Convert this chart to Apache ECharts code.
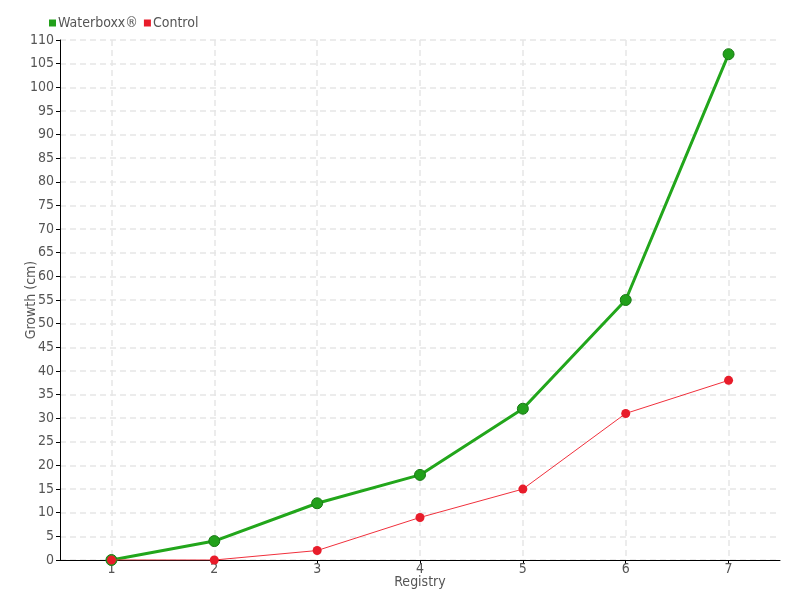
<!DOCTYPE html>
<html><head><meta charset="utf-8">
<script src="https://cdn.jsdelivr.net/npm/echarts@6/dist/echarts.min.js"></script>
<style>html,body{margin:0;padding:0;background:#fff}#c{width:800px;height:600px}</style>
</head><body><div id="c"></div>
<script>
const categories = ['1','2','3','4','5','6','7'];
const waterboxx = [0, 4, 12, 18, 32, 55, 107];
const control = [0, 0, 2, 9, 15, 31, 38];
const font = '"Liberation Sans Narrow", "DejaVu Sans Condensed", sans-serif';
const chart = echarts.init(document.getElementById('c'));
chart.setOption({
  animation: false,
  textStyle: { fontFamily: font },
  legend: {
    left: 44, top: 11, itemWidth: 7, itemHeight: 7, itemGap: 6,
    icon: 'rect',
    itemStyle: { borderWidth: 0 },
    textStyle: { color: '#555', fontSize: 14, fontFamily: font, padding: [0,0,0,-3] },
    data: ['Waterboxx®', 'Control']
  },
  grid: { left: 60, right: 20, top: 40, bottom: 40 },
  xAxis: {
    type: 'category', data: categories, boundaryGap: true,
    name: 'Registry', nameLocation: 'middle', nameGap: 15, nameMoveOverlap: false,
    nameTextStyle: { color: '#555', fontSize: 14, fontFamily: font },
    axisLine: { lineStyle: { color: '#000', width: 1 } },
    axisTick: { show: true, alignWithLabel: true, length: 4, lineStyle: { color: '#000' } },
    axisLabel: { color: '#555', fontSize: 14, margin: 2, fontFamily: font },
    splitLine: { show: true, alignWithLabel: true, lineStyle: { color: '#e6e6e6', type: [6, 4], width: 1.5 } }
  },
  yAxis: {
    type: 'value', min: 0, max: 110, interval: 5,
    name: 'Growth (cm)', nameLocation: 'middle', nameGap: 22, nameRotate: 90, nameMoveOverlap: false,
    nameTextStyle: { color: '#555', fontSize: 14, fontFamily: font },
    axisLine: { show: true, lineStyle: { color: '#000', width: 1 } },
    axisTick: { show: true, length: 4, lineStyle: { color: '#000' } },
    axisLabel: { color: '#555', fontSize: 14, margin: 6, fontFamily: font },
    splitLine: { show: true, lineStyle: { color: '#e6e6e6', type: [6, 4], width: 1.5 } }
  },
  series: [
    {
      name: 'Waterboxx®', type: 'line', data: waterboxx,
      symbol: 'circle', symbolSize: 11,
      lineStyle: { color: '#22a61b', width: 3 },
      itemStyle: { color: '#22a01b', borderColor: '#1a7a16', borderWidth: 1 },
      z: 3
    },
    {
      name: 'Control', type: 'line', data: control,
      symbol: 'circle', symbolSize: 9,
      lineStyle: { color: '#f0303c', width: 1 },
      itemStyle: { color: '#e81c2a', borderColor: '#e81c2a', borderWidth: 0 },
      z: 4
    }
  ]
});
</script></body></html>
